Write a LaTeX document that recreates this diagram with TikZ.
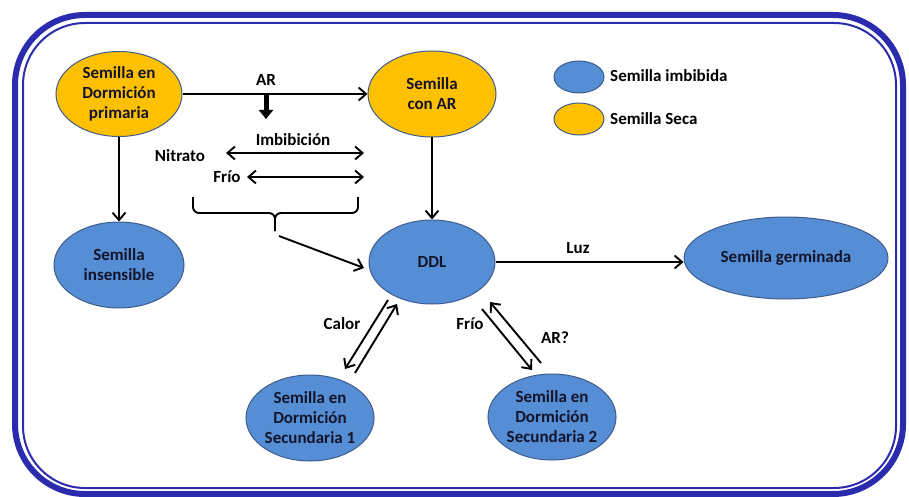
\documentclass[tikz,border=0pt]{standalone}
\usepackage{fontspec}
\setmainfont{Carlito}
\usetikzlibrary{shapes.geometric,arrows.meta}
\definecolor{framec}{HTML}{2B2BAE}
\definecolor{wet}{HTML}{558ED5}
\definecolor{dry}{HTML}{FFC000}
\definecolor{rim}{HTML}{3E5C8C}
\definecolor{ink}{HTML}{14142A}
\tikzset{
  seed/.style={ellipse, draw=rim, line width=1pt, inner sep=0pt, align=center,
    text=ink, font=\bfseries\fontsize{17}{20}\selectfont},
  wetseed/.style={seed, fill=wet},
  dryseed/.style={seed, fill=dry},
  lbl/.style={font=\bfseries\fontsize{17}{20}\selectfont, inner sep=1pt},
  arr/.style={line width=1.9pt, -{Straight Barb[length=7.5pt,width=13pt]}},
  dbl/.style={line width=1.9pt, {Straight Barb[length=7.5pt,width=13pt]}-{Straight Barb[length=7.5pt,width=13pt]}},
  fatarr/.style={line width=5pt, -{Triangle[length=9pt,width=14pt]}},
}
\begin{document}
\begin{tikzpicture}[x=1pt,y=-1pt]
\useasboundingbox (0,0) rectangle (909,497);
% double blue frame
\draw[framec, line width=6pt, rounded corners=70pt] (15,15) rectangle (903,494);
\draw[framec, line width=2pt, rounded corners=62pt] (23,23) rectangle (896,488);

% seeds
\node[dryseed, minimum width=126pt, minimum height=85pt] (prim) at (119,94) {Semilla en\\Dormición\\primaria};
\node[dryseed, minimum width=128pt, minimum height=86pt] (conar) at (432,94) {Semilla\\con AR};
\node[wetseed, minimum width=130pt, minimum height=86pt] (insens) at (119,265) {Semilla\\insensible};
\node[wetseed, minimum width=126pt, minimum height=84pt] (ddl) at (432,262) {DDL};
\node[wetseed, minimum width=204pt, minimum height=82pt] (germ) at (786,258) {Semilla germinada};
\node[wetseed, minimum width=126pt, minimum height=86pt] (sec1) at (310,418) {Semilla en\\Dormición\\Secundaria 1};
\node[wetseed, minimum width=128pt, minimum height=86pt] (sec2) at (552,417) {Semilla en\\Dormición\\Secundaria 2};

% legend
\node[wetseed, minimum width=50pt, minimum height=32pt] (legwet) at (579,77) {};
\node[lbl, anchor=west] (legwettxt) at (609,76) {Semilla imbibida};
\node[dryseed, minimum width=50pt, minimum height=32pt] (legdry) at (579,119) {};
\node[lbl, anchor=west] (legdrytxt) at (609,119) {Semilla Seca};

% upper branch
\draw[arr] (prim) -- (conar);
\node[lbl] (ar) at (266,80) {AR};
\coordinate (arTop) at (266,94);
\coordinate (arBot) at (266,119);
\draw[fatarr] (arTop) -- (arBot);

\node[lbl] (imb) at (293,140) {Imbibición};
\node[lbl] (nit) at (180,156) {Nitrato};
\coordinate (imbL) at (226,153);
\coordinate (imbR) at (364,153);
\draw[dbl] (imbL) -- (imbR);
\node[lbl] (frio) at (227,177) {Frío};
\coordinate (frioL) at (247,177);
\coordinate (frioR) at (364,177);
\draw[dbl] (frioL) -- (frioR);

% brace gathering the treatments
\coordinate (brL) at (193,197);
\coordinate (brR) at (358,197);
\coordinate (brTip) at (275,231);
\draw[line width=1.9pt, rounded corners=6pt] (brL) -- (193,213) -- (275,213) -- (brTip);
\draw[line width=1.9pt, rounded corners=6pt] (brR) -- (358,213) -- (275,213) -- (brTip);
\coordinate (brFrom) at (279,236);
\coordinate (ddlIn) at (364,268);
\draw[arr] (brFrom) -- (ddlIn);

% vertical transitions
\draw[arr] (prim) -- (insens);
\draw[arr] (conar) -- (ddl);

% germination
\draw[arr] (ddl.east) -- (ddl.east -| germ.west);
\node[lbl] (luz) at (578,248) {Luz};

% secondary dormancy, left
\coordinate (a1s) at (388,300);
\coordinate (a1e) at (345,369);
\coordinate (b1s) at (355,373);
\coordinate (b1e) at (397,304);
\draw[arr] (a1s) -- (a1e);
\draw[arr] (b1s) -- (b1e);
\node[lbl] (calor) at (342,324) {Calor};

% secondary dormancy, right
\coordinate (a2s) at (482,309);
\coordinate (a2e) at (532,370);
\coordinate (b2s) at (541,363);
\coordinate (b2e) at (490,302);
\draw[arr] (a2s) -- (a2e);
\draw[arr] (b2s) -- (b2e);
\node[lbl] (frio2) at (470,324) {Frío};
\node[lbl] (arq) at (555,338) {AR?};
\end{tikzpicture}
\end{document}
